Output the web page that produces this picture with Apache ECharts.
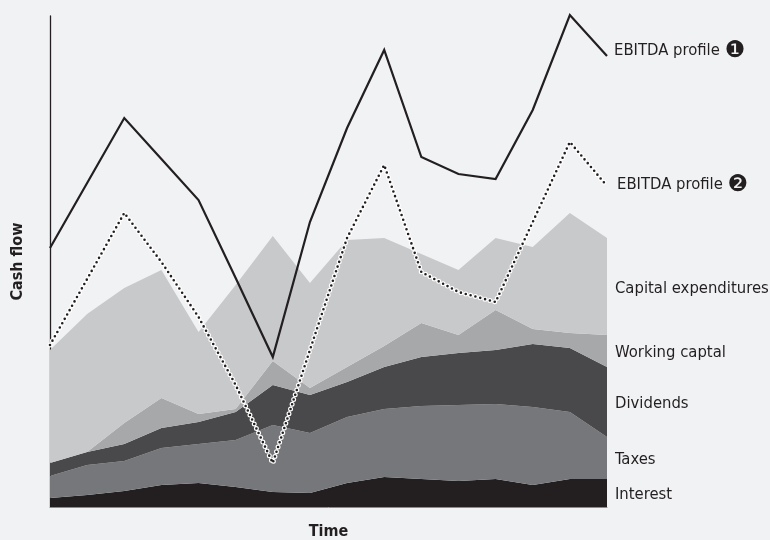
<!DOCTYPE html>
<html><head><meta charset="utf-8">
<script src="https://cdn.jsdelivr.net/npm/echarts@6/dist/echarts.min.js"></script>
<style>html,body{margin:0;padding:0;background:#f1f2f4;width:770px;height:540px;overflow:hidden}#c{position:absolute;left:0;top:0;width:770px;height:540px}</style>
</head><body><div id="c"></div>
<script>
const periods = ['1','2','3','4','5','6','7','8','9','10','11','12','13','14','15','16'];
const interest       = [9,12,16,22,24,20,15,14,24,30,28,26,28,22,28,28];
const taxes          = [22,30,30,37,39,47,67,60,66,68,73,76,75,78,67,42];
const dividends      = [13,13,17,20,22,28,40,38,35,42,49,52,54,63,64,70];
const workingCapital = [0,0,21,30,8,3,24,7,15,21,34,18,40,15,15,32];
const capex          = [113,138,135,128,82,124,125,105,127,108,69,65,72,82,120,97];
const ebitda1 = [259,324,389,348,307,229,150,285,379,457,350,333,328,397,492,451];
const ebitda2 = [162,228,294,245,190,122,44,157,269,342,235,215,205,285,365,321];
const layerNames = ['Interest','Taxes','Dividends','Working captal','Capital expenditures'];
const layerData = [interest, taxes, dividends, workingCapital, capex];
const layerColors = ['#231f20','#76777a','#49494b','#a7a8aa','#c8c9cb'];

const FONT = "'Liberation Sans Narrow','DejaVu Sans Condensed','Open Sans',sans-serif";
const chart = echarts.init(document.getElementById('c'), null, {width:770, height:540});
const series = layerData.map((d,i)=>({
  name: layerNames[i], type:'line', stack:'cf', data:d, symbol:'none',
  lineStyle:{width:0}, areaStyle:{color:layerColors[i], opacity:1}, z:2
}));
series.push({name:'halo2', type:'line', data:ebitda2, symbol:'none', z:4, clip:false,
  lineStyle:{color:'#ffffff', width:5, type:[0,5], cap:'round'}});
series.push({name:'EBITDA profile 2', type:'line', data:ebitda2, symbol:'none', z:5, clip:false,
  lineStyle:{color:'#231f20', width:2.6, type:[0,5], cap:'round'}});
series.push({name:'EBITDA profile 1', type:'line', data:ebitda1, symbol:'none', z:5, clip:false,
  lineStyle:{color:'#231f20', width:2.2, join:'miter'}});

chart.setOption({
  backgroundColor:'#f1f2f4',
  animation:false,
  grid:{left:50, right:163, top:16, bottom:33, containLabel:false, outerBoundsMode:'none'},
  xAxis:{type:'category', data:periods, boundaryGap:false,
    name:'Time', nameLocation:'middle', nameGap:17,
    nameTextStyle:{fontFamily:FONT, fontWeight:'bold', fontSize:16, color:'#231f20'},
    axisLine:{show:true, lineStyle:{color:'#8a8b8d', width:1}}, axisTick:{show:false}, axisLabel:{show:false}, splitLine:{show:false}},
  yAxis:{type:'value', min:0, max:491,
    name:'Cash flow', nameLocation:'middle', nameGap:24, nameRotate:90,
    nameTextStyle:{fontFamily:FONT, fontWeight:'bold', fontSize:16, color:'#231f20'},
    axisLine:{show:true, lineStyle:{color:'#231f20', width:1.3}}, axisTick:{show:false}, axisLabel:{show:false}, splitLine:{show:false}},
  series: series
});

const last = periods.length-1;
let cum = 0;
const graphics = [];
const labelX = 615;
layerData.forEach((d,i)=>{
  const lo = cum, hi = cum + d[last]; cum = hi;
  const y = chart.convertToPixel({yAxisIndex:0}, (lo+hi)/2) + 2;
  graphics.push({type:'text', x:labelX, y:y, style:{text:layerNames[i], fontFamily:FONT, fontSize:16.5, fill:'#231f20', textVerticalAlign:'middle'}});
});
const y1 = chart.convertToPixel({yAxisIndex:0}, ebitda1[last]) - 5;
const y2 = chart.convertToPixel({yAxisIndex:0}, ebitda2[last]) - 1;
[[y1,'❶',614],[y2,'❷',617]].forEach(([y,n,x])=>{
  graphics.push({type:'text', x:x, y:y, style:{text:'EBITDA profile {n|'+n+'}', fontFamily:FONT, fontSize:16.5, fill:'#231f20', textVerticalAlign:'middle',
    rich:{n:{fontFamily:'DejaVu Sans', fontSize:23, fill:'#231f20'}}}});
});
chart.setOption({graphic:graphics});
</script></body></html>
